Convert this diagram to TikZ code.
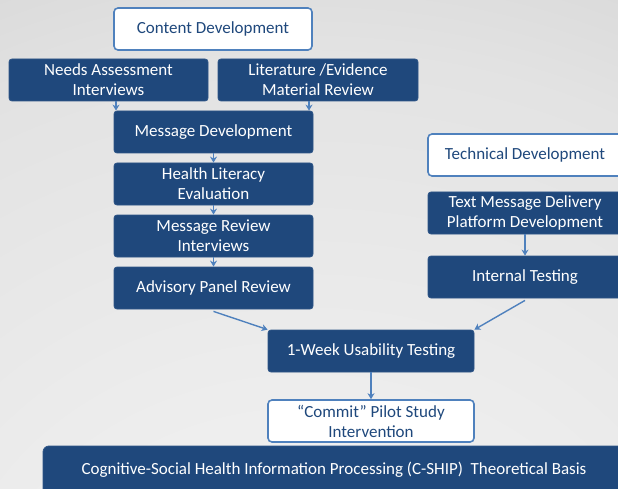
\documentclass[tikz,border=0pt]{standalone}
\usepackage{fontspec}
\setmainfont{Carlito}
\usetikzlibrary{arrows.meta}
\definecolor{boxblue}{HTML}{1F487C}
\definecolor{boxedge}{HTML}{2E5587}
\definecolor{lineblue}{HTML}{4F81BD}
\pgfdeclareradialshading{bgshade}{\pgfpoint{0bp}{-50bp}}{color(0bp)=(black!3); color(50bp)=(black!11); color(80bp)=(black!22); color(112bp)=(black!30); color(130bp)=(black!30)}
\tikzset{
  darkbox/.style={draw=boxedge, line width=0.8pt, fill=boxblue, rounded corners=3pt, text=white, align=center, font=\fontsize{17}{20}\selectfont, inner sep=1pt},
  lightbox/.style={draw=lineblue, line width=1.6pt, fill=white, rounded corners=4pt, text=boxblue, align=center, font=\fontsize{17}{20}\selectfont, inner sep=1pt},
  conn/.style={draw=lineblue, line width=1.4pt, -{Stealth[length=6pt,width=7pt]}},
}
\begin{document}
\begin{tikzpicture}[x=1pt,y=-1pt]
\useasboundingbox (0,0) rectangle (618,489);
\begin{scope}
\clip (0,0) rectangle (618,489);
\shade[shading=bgshade] (0,0) rectangle (618,489);
\node[lightbox, minimum width=198pt, minimum height=42pt] (content) at (213,29) {Content Development};
\node[darkbox, minimum width=199pt, minimum height=42pt] (needs) at (108.5,80) {Needs Assessment\\Interviews};
\node[darkbox, minimum width=200pt, minimum height=42pt] (lit) at (318,80) {Literature /Evidence\\Material Review};
\node[darkbox, minimum width=199pt, minimum height=42pt] (msgdev) at (213.5,132) {Message Development};
\node[darkbox, minimum width=199pt, minimum height=42pt] (health) at (213.5,184) {Health Literacy\\Evaluation};
\node[darkbox, minimum width=199pt, minimum height=42pt] (review) at (213.5,236) {Message Review\\Interviews};
\node[darkbox, minimum width=199pt, minimum height=42pt] (advisory) at (213.5,288) {Advisory Panel Review};
\node[lightbox, minimum width=194pt, minimum height=42pt] (tech) at (525,155) {Technical Development};
\node[darkbox, minimum width=194pt, minimum height=42pt] (textmsg) at (525,213) {Text Message Delivery\\Platform Development};
\node[darkbox, minimum width=194pt, minimum height=42pt] (internal) at (525,277) {Internal Testing};
\node[darkbox, minimum width=206pt, minimum height=42pt] (usab) at (371,351) {1-Week Usability Testing};
\node[lightbox, minimum width=206pt, minimum height=42pt] (commit) at (371,421) {``Commit'' Pilot Study\\Intervention};
\node[darkbox, minimum width=582pt, minimum height=48pt, rounded corners=6pt] (cship) at (334,470) {Cognitive-Social Health Information Processing (C-SHIP)\ \ Theoretical Basis};
\coordinate (needsA) at (116,101);
\draw[conn] (needs.south -| needsA) -- (msgdev.north -| needsA);
\coordinate (litA) at (309,101);
\draw[conn] (lit.south -| litA) -- (msgdev.north -| litA);
\draw[conn] (msgdev) -- (health);
\draw[conn] (health) -- (review);
\draw[conn] (review) -- (advisory);
\draw[conn] (textmsg) -- (internal);
\draw[conn] (advisory.south) ++(0,2) -- (usab.north west);
\draw[conn] (internal.south) ++(0,2) -- (usab.north east);
\draw[conn] (usab) -- (commit);
\end{scope}
\end{tikzpicture}
\end{document}
